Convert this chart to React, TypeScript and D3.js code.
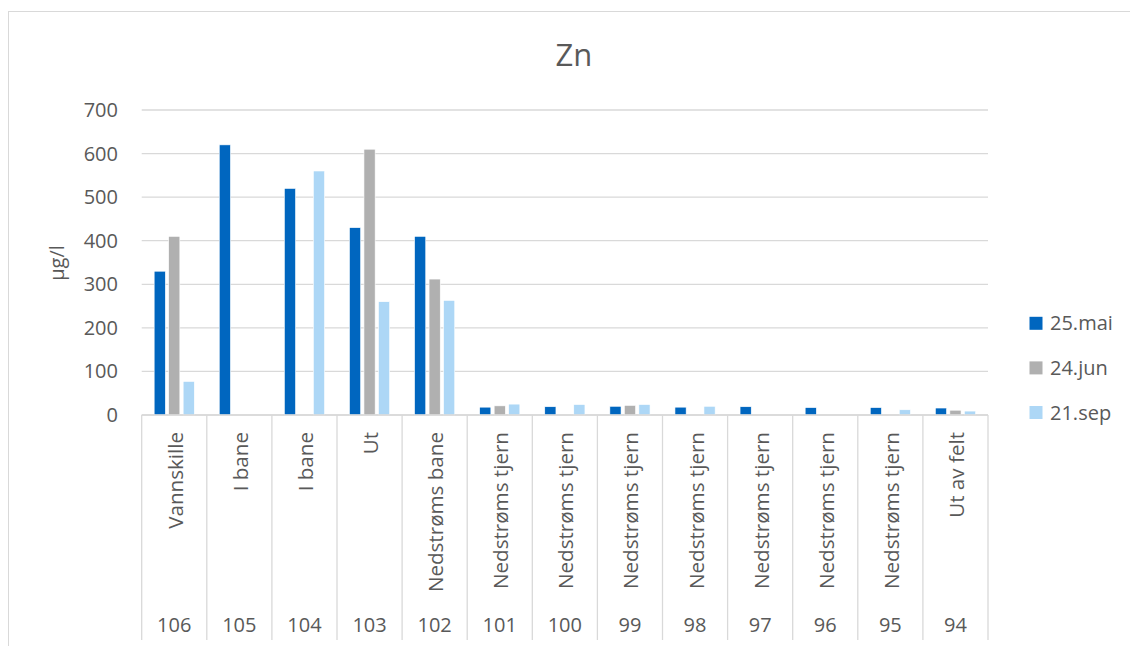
import React from "react";
import * as d3 from "d3";

// Zn concentrations (µg/l) per sampling station and date
const stationIds = ["106", "105", "104", "103", "102", "101", "100", "99", "98", "97", "96", "95", "94"];
const stationNames = [
  "Vannskille",
  "I bane",
  "I bane",
  "Ut",
  "Nedstrøms bane",
  "Nedstrøms tjern",
  "Nedstrøms tjern",
  "Nedstrøms tjern",
  "Nedstrøms tjern",
  "Nedstrøms tjern",
  "Nedstrøms tjern",
  "Nedstrøms tjern",
  "Ut av felt",
];
const seriesNames = ["25.mai", "24.jun", "21.sep"];
const mai25: (number | null)[] = [330, 620, 520, 430, 410, 18, 19, 20, 18, 19, 17, 17, 16];
const jun24: (number | null)[] = [410, null, null, 610, 312, 21, null, 22, null, null, null, null, 11];
const sep21: (number | null)[] = [77, null, 560, 260, 263, 25, 24, 24, 20, null, null, 12, 9];
const yTicks = [0, 100, 200, 300, 400, 500, 600, 700];

const seriesValues = [mai25, jun24, sep21];
const colors = ["#0066BF", "#B0B0B0", "#ADD7F6"];

const W = 1130;
const H = 646;
const FONT = "'Open Sans', 'Liberation Sans', sans-serif";
const TEXT = "#595959";
const GRID = "#D9D9D9";

export default function App() {
  const x = d3
    .scaleBand<number>()
    .domain(d3.range(stationIds.length))
    .range([141.7, 988])
    .padding(0);
  const x1 = d3
    .scaleBand<number>()
    .domain(d3.range(seriesNames.length))
    .range([0, x.bandwidth()])
    .paddingInner(0.228)
    .paddingOuter(0.859);
  const y = d3.scaleLinear().domain([0, 700]).range([415, 110]);

  const [x0, x2] = x.range();
  const labelTop = 432;
  const axisBottom = 640;

  return (
    <svg
      width={W}
      height={H}
      style={{ position: "absolute", left: 0, top: 0, display: "block", background: "#fff" }}
      fontFamily={FONT}
    >
      {/* chart frame */}
      <rect x={8.5} y={11.5} width={W + 20} height={H + 20} fill="#fff" stroke={GRID} strokeWidth={1} />

      {/* title */}
      <text x={574} y={66} textAnchor="middle" fontSize={31} fill={TEXT}>
        Zn
      </text>

      {/* gridlines */}
      {yTicks.map((t) => (
        <line key={t} x1={x0} x2={x2} y1={y(t)} y2={y(t)} stroke={GRID} strokeWidth={1.3} />
      ))}

      {/* y tick labels */}
      {yTicks.map((t) => (
        <text key={t} x={118} y={y(t) + 7} textAnchor="end" fontSize={20} fill={TEXT}>
          {t}
        </text>
      ))}

      {/* y axis title */}
      <text
        transform={`translate(64, 263) rotate(-90)`}
        textAnchor="middle"
        fontSize={20}
        fill={TEXT}
      >
        µg/l
      </text>

      {/* bars */}
      {stationIds.map((_, i) => (
        <g key={i} transform={`translate(${x(i)},0)`}>
          {seriesValues.map((vals, s) => {
            const v = vals[i];
            if (v == null) return null;
            return (
              <rect
                key={s}
                x={x1(s)}
                y={y(v)}
                width={x1.bandwidth()}
                height={y(0) - y(v)}
                fill={colors[s]}
                stroke="#fff"
                strokeWidth={0.6}
              />
            );
          })}
        </g>
      ))}

      {/* category axis line and separators */}
      <line x1={x0} x2={x2} y1={y(0)} y2={y(0)} stroke={GRID} strokeWidth={1.3} />
      {d3.range(stationIds.length + 1).map((i) => {
        const xx = i < stationIds.length ? (x(i) as number) : x2;
        return <line key={i} x1={xx} x2={xx} y1={y(0)} y2={axisBottom} stroke={GRID} strokeWidth={1.3} />;
      })}

      {/* category labels */}
      {stationNames.map((name, i) => {
        const cx = (x(i) as number) + x.bandwidth() / 2;
        return (
          <text
            key={i}
            transform={`translate(${cx}, ${labelTop}) rotate(-90)`}
            x={0}
            y={8.5}
            textAnchor="end"
            fontSize={20.6}
            fill={TEXT}
          >
            {name}
          </text>
        );
      })}
      {stationIds.map((id, i) => {
        const cx = (x(i) as number) + x.bandwidth() / 2;
        return (
          <text key={id} x={cx} y={632} textAnchor="middle" fontSize={20} fill={TEXT}>
            {id}
          </text>
        );
      })}

      {/* legend */}
      {seriesNames.map((name, s) => {
        const cy = 323.3 + s * 44.6;
        return (
          <g key={name}>
            <rect x={1029.5} y={cy - 6.5} width={13} height={13} fill={colors[s]} />
            <text x={1050} y={cy + 7} fontSize={20} fill={TEXT}>
              {name}
            </text>
          </g>
        );
      })}
    </svg>
  );
}
